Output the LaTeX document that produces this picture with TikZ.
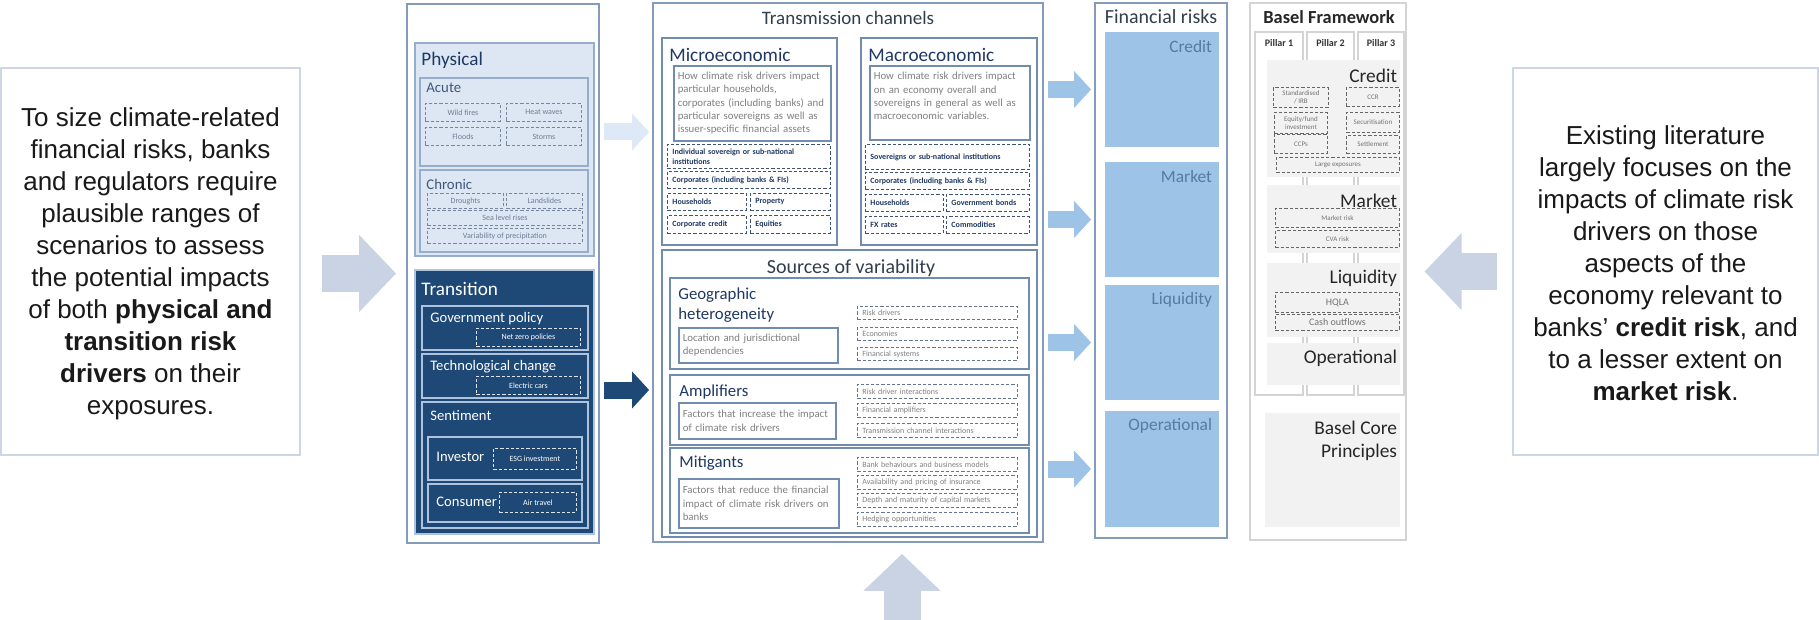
\documentclass[tikz,border=0pt]{standalone}
\usepackage{fontspec}
\setmainfont{Carlito}
\newfontfamily\arialfont{Liberation Sans}
\usepackage{tikz}
\usetikzlibrary{arrows.meta, positioning, fit}

\definecolor{panelc}{RGB}{132,155,186}
\definecolor{subc}{RGB}{112,140,174}
\definecolor{navyt}{RGB}{31,56,100}
\definecolor{slatet}{RGB}{50,62,78}
\definecolor{grayt}{RGB}{128,128,128}
\definecolor{tagc}{RGB}{62,82,115}
\definecolor{physfill}{RGB}{221,231,243}
\definecolor{physline}{RGB}{150,174,204}
\definecolor{transfill}{RGB}{30,72,118}
\definecolor{transline}{RGB}{175,195,220}
\definecolor{finfill}{RGB}{157,195,230}
\definecolor{finlblc}{RGB}{88,122,163}
\definecolor{baselfill}{RGB}{242,242,242}
\definecolor{baselline}{RGB}{212,212,212}
\definecolor{bigarrowc}{RGB}{201,211,227}
\definecolor{sideline}{RGB}{205,214,228}
\definecolor{lightarrowc}{RGB}{221,233,246}

\begin{document}
\begin{tikzpicture}[x=0.5pt, y=-0.5pt,
    panel/.style={draw=panelc, line width=0.9pt, inner sep=0pt},
    subbox/.style={draw=subc, line width=0.8pt, inner sep=0pt},
    physbox/.style={draw=physline, fill=physfill, line width=0.7pt, inner sep=0pt},
    trbox/.style={draw=transline, line width=0.6pt, inner sep=0pt},
    finblock/.style={fill=finfill, inner sep=0pt},
    bblock/.style={fill=baselfill, inner sep=0pt},
    pillar/.style={draw=baselline, fill=white, line width=0.6pt, inner sep=0pt},
    sidebox/.style={draw=sideline, line width=0.8pt, inner sep=0pt},
    sidetext/.style={font=\arialfont\fontsize{13}{16}\selectfont, align=center, text=black!90},
    ttl/.style={font=\fontsize{9.5}{11}\selectfont, text=slatet, inner sep=0pt},
    hd/.style={font=\fontsize{9.6}{11}\selectfont, text=navyt, inner sep=0pt, anchor=west},
    mhd/.style={font=\fontsize{8.4}{10}\selectfont, text=navyt, inner sep=0pt, anchor=west, align=left},
    shd/.style={font=\fontsize{7.4}{9}\selectfont, text=navyt!85, inner sep=0pt, anchor=west},
    wshd/.style={font=\fontsize{7.3}{9}\selectfont, text=white, inner sep=0pt, anchor=west},
    desc/.style={draw=subc, line width=0.8pt, anchor=north west, align=left, text=grayt,
        inner xsep=2pt, inner ysep=0pt, font=\fontsize{5.4}{6.7}\selectfont},
    dtag/.style={draw=tagc, line width=0.45pt, dash pattern=on 1.6pt off 1pt, anchor=north west,
        inner sep=0pt, align=center, text=tagc, font=\fontsize{4.2}{5}\selectfont},
    ltag/.style={dtag, align=left, inner xsep=2.5pt},
    mtag/.style={ltag, text=navyt, font=\bfseries\fontsize{4}{5}\selectfont},
    ptag/.style={dtag, draw=tagc!70, text=tagc!75, font=\fontsize{4}{5}\selectfont},
    wtag/.style={dtag, draw=white!85!transfill, text=white, font=\fontsize{4}{5}\selectfont},
    gtag/.style={ltag, draw=tagc!80, text=grayt, font=\fontsize{4}{5}\selectfont},
    btag/.style={dtag, draw=black!60, text=black!55, font=\fontsize{3.5}{4.2}\selectfont},
    bhd/.style={font=\bfseries\fontsize{9.2}{11}\selectfont, text=black!85, inner sep=0pt, anchor=west},
    plbl/.style={font=\bfseries\fontsize{5}{6}\selectfont, text=black!80, inner sep=0pt},
    blbl/.style={font=\fontsize{9.7}{11.5}\selectfont, text=black!85, inner sep=0pt, anchor=east},
    finlbl/.style={font=\fontsize{8.7}{10}\selectfont, text=finlblc, inner sep=0pt, anchor=east},
    bigarrow/.style={draw=bigarrowc, line width=18.5pt, -{Triangle[length=18.5pt, width=37.5pt]}},
    flow/.style={line width=8.5pt, shorten <=2pt, shorten >=1.5pt, -{Triangle[length=8.5pt, width=18pt]}}
]
\useasboundingbox (0,0) rectangle (1819,620);

% side notes
\node[sidebox, fit={(1,68) (300,455)}] (lefttext) {};
\node[sidetext] (lefttext-t) at ([yshift=-1pt]lefttext.center) {To size climate-related\\financial risks, banks\\and regulators require\\plausible ranges of\\scenarios to assess\\the potential impacts\\of both \textbf{physical and}\\\textbf{transition risk}\\\textbf{drivers} on their\\exposures.};
\node[sidebox, fit={(1513,68) (1818,455)}] (righttext) {};
\node[sidetext] (righttext-t) at ([yshift=-1pt]righttext.center) {Existing literature\\largely focuses on the\\impacts of climate risk\\drivers on those\\aspects of the\\economy relevant to\\banks’ \textbf{credit risk}, and\\to a lesser extent on\\\textbf{market risk}.};

% risk drivers
\node[panel, fill=white, fit={(407,4) (599,543)}] (drivers) {};
\node[physbox, fit={(415,43) (594,256)}] (phys) {};
\node[hd] (phys-t) at (421,60) {Physical};
\node[physbox, fit={(420,78) (588,166)}] (acute) {};
\node[shd] (acute-t) at (426,88) {Acute};
\foreach \n/\x/\y/\t in {wf/425/103/Wild fires, hw/506/103/Heat waves, fl/425/127/Floods, st/506/127/Storms}
  \node[ptag, minimum width=37.5pt, minimum height=9pt] (\n) at (\x,\y) {\t};
\node[physbox, fit={(420,170) (588,252)}] (chronic) {};
\node[shd] (chronic-t) at (426,184) {Chronic};
\foreach \n/\x/\y/\w/\t in {dr/427/193/38pt/Droughts, ls/506/193/38pt/Landslides, sl/427/210/77.5pt/Sea level rises, vp/427/228/77.5pt/Variability of precipitation}
  \node[ptag, minimum width=\w, minimum height=7.5pt] (\n) at (\x,\y) {\t};

\node[panel, draw=transline, fill=transfill, fit={(415,270) (594,534)}] (trn) {};
\node[hd, text=white] (trn-t) at (421,289) {Transition};
\node[trbox, fit={(422,306) (588,350)}] (gov) {};
\node[wshd] (gov-t) at (430,319) {Government policy};
\node[wtag, minimum width=52pt, minimum height=9pt] (nz) at (476,328) {Net zero policies};
\node[trbox, fit={(422,354) (588,398)}] (tech) {};
\node[wshd] (tech-t) at (430,367) {Technological change};
\node[wtag, minimum width=52pt, minimum height=9pt] (ec) at (476,376) {Electric cars};
\node[trbox, fit={(422,402) (588,528)}] (sent) {};
\node[wshd] (sent-t) at (430,416) {Sentiment};
\node[trbox, fit={(428,437) (582,480)}] (inv) {};
\node[wshd] (inv-t) at (436,457) {Investor};
\node[wtag, minimum width=41.5pt, minimum height=10.5pt] (esg) at (493,448) {ESG investment};
\node[trbox, fit={(428,484) (582,522)}] (cons) {};
\node[wshd] (cons-t) at (436,502) {Consumer};
\node[wtag, minimum width=38.5pt, minimum height=10pt] (air) at (499,492) {Air travel};

% transmission channels
\node[panel, fill=white, fit={(653,3) (1043,542)}] (tc) {};
\node[ttl] (tc-t) at (848,18) {Transmission channels};
\node[subbox, fit={(662,38) (837,245)}] (micro) {};
\node[hd] (micro-t) at (669,55) {Microeconomic};
\node[desc, text width=74.5pt, minimum height=37.5pt] (micro-d) at (673,65) {How climate risk drivers impact\\particular households,\\corporates (including banks) and\\particular sovereigns  as well as\\issuer-specific  financial assets};
\foreach \n/\x/\y/\w/\h/\t in {
    mi1/667/144/76.5pt/12pt/{Individual sovereign or sub-national\\institutions},
    mi2/667/171/76.5pt/8.5pt/{Corporates (including banks \& FIs)},
    mi3/667/193/34.5pt/8.5pt/Households, mi4/750/193/35pt/8.5pt/Property,
    mi5/667/215/34.5pt/9pt/Corporate credit, mi6/750/215/35pt/9pt/Equities}
  \node[mtag, text width=\w, minimum height=\h] (\n) at (\x,\y) {\t};

\node[subbox, fit={(861,38) (1037,245)}] (macro) {};
\node[hd] (macro-t) at (868,55) {Macroeconomic};
\node[desc, text width=76pt, minimum height=37pt] (macro-d) at (869,65) {How climate risk drivers impact\\on an economy overall and\\sovereigns in general as well as\\macroeconomic variables.\\\mbox{}};
\foreach \n/\x/\y/\w/\h/\t in {
    ma1/865/144/77pt/12.5pt/Sovereigns or sub-national institutions,
    ma2/865/172/77pt/8.5pt/{Corporates (including banks \& FIs)},
    ma3/865/194/34pt/8.5pt/Households, ma4/946/194/36.5pt/8.5pt/Government bonds,
    ma5/865/216/34pt/8.5pt/FX rates, ma6/946/216/36.5pt/8.5pt/Commodities}
  \node[mtag, text width=\w, minimum height=\h] (\n) at (\x,\y) {\t};

\node[subbox, fit={(662,250) (1037,537)}] (src) {};
\node[ttl, font=\fontsize{10}{12}\selectfont] (src-t) at (851,268) {Sources of variability};
\node[subbox, fit={(670,278) (1029,369)}] (geo) {};
\node[mhd] (geo-t) at (678,305) {Geographic\\heterogeneity};
\node[desc, text width=75.5pt, minimum height=17.5pt] (geo-d) at (678,327) {Location and jurisdictional\\dependencies};
\foreach \n/\y/\t in {ge1/306/Risk drivers, ge2/327/Economies, ge3/347/Financial systems}
  \node[gtag, text width=75pt, minimum height=6.5pt] (\n) at (857,\y) {\t};
\node[subbox, fit={(670,375) (1029,445)}] (amp) {};
\node[mhd] (amp-t) at (679,392) {Amplifiers};
\node[desc, text width=74.5pt, minimum height=18pt] (amp-d) at (678,402) {Factors that increase the impact\\of climate risk drivers};
\foreach \n/\y/\t in {am1/384/Risk driver interactions, am2/403/Financial amplifiers, am3/423/Transmission channel interactions}
  \node[gtag, text width=75pt, minimum height=7pt] (\n) at (857,\y) {\t};
\node[subbox, fit={(670,448) (1029,533)}] (mit) {};
\node[mhd] (mit-t) at (679,463) {Mitigants};
\node[desc, text width=76pt, minimum height=24.5pt] (mit-d) at (678,478) {Factors that reduce the financial\\impact of climate risk drivers on\\banks};
\foreach \n/\y/\t in {mt1/457/Bank behaviours and business models, mt2/475/Availability and pricing of insurance, mt3/493/Depth and maturity of capital markets, mt4/512/Hedging opportunities}
  \node[gtag, text width=75pt, minimum height=7pt] (\n) at (857,\y) {\t};

% drivers feed the channels
\draw[flow, draw=lightarrowc] (drivers.east |- 0,132) -- (tc.west |- 0,132);
\draw[flow, draw=transfill] (drivers.east |- 0,390) -- (tc.west |- 0,390);

% financial risks
\node[panel, fill=white, fit={(1095,3) (1227,538)}] (fin) {};
\node[ttl, font=\fontsize{10}{12}\selectfont] (fin-t) at (1161,17) {Financial risks};
\foreach \n/\a/\b/\t in {cr/32/147/Credit, mk/162/277/Market, lq/285/400/Liquidity, op/411/527/Operational} {
  \node[finblock, fit={(1105,\a) (1219,\b)}] (\n) {};
  \node[finlbl] (\n-t) at ([xshift=-3.5pt, yshift=-7.5pt]\n.north east) {\t};
  \draw[flow, draw=finfill] (tc.east |- \n) -- (fin.west |- \n);
}

% Basel framework
\node[panel, draw=baselline, line width=0.6pt, fill=white, fit={(1250,3) (1406,540)}] (basel) {};
\node[bhd] (basel-t) at (1263,17) {Basel Framework};
\foreach \n/\a/\b/\t in {p1/1255/1303/Pillar 1, p2/1307/1354/Pillar 2, p3/1358/1404/Pillar 3} {
  \node[pillar, fit={(\a,32) (\b,395)}] (\n) {};
  \node[plbl] (\n-t) at ([yshift=-6pt]\n.north) {\t};
}
\foreach \n/\a/\b/\t in {bcr/60/177/Credit, bmk/185/253/Market, blq/263/337/Liquidity, bop/343/385/Operational} {
  \node[bblock, fit={(1267,\a) (1400,\b)}] (\n) {};
  \node[blbl] (\n-t) at ([xshift=-1.5pt, yshift=-8pt]\n.north east) {\t};
}
\foreach \n/\x/\y/\w/\h/\t in {
    b1/1273/87/27.5pt/10pt/{Standardised\\/ IRB}, b2/1346/87/26.5pt/9.5pt/CCR,
    b3/1274/112/26.5pt/10.5pt/{Equity/fund\\investment}, b4/1346/112/26.5pt/10pt/Securitisation,
    b5/1274/134/26.5pt/9.5pt/CCPs, b6/1346/135/26.5pt/9pt/Settlement,
    b7/1276/157/61.5pt/7.5pt/Large exposures,
    b8/1275/208/62pt/9.5pt/Market risk, b9/1275/230/62pt/8.5pt/CVA risk}
  \node[btag, minimum width=\w, minimum height=\h] (\n) at (\x,\y) {\t};
\node[btag, font=\fontsize{5}{6}\selectfont, minimum width=62pt, minimum height=10pt] (hqla) at (1275,292) {HQLA};
\node[btag, font=\fontsize{5}{6}\selectfont, minimum width=62pt, minimum height=8pt] (cash) at (1275,314) {Cash outflows};
\node[bblock, fit={(1265,413) (1400,527)}] (core) {};
\node[blbl, align=right] (core-t) at ([xshift=-1.5pt, yshift=-14.25pt]core.north east) {Basel Core\\Principles};

% big arrows into the framework
\draw[bigarrow, shorten <=10.5pt, shorten >=5pt] (lefttext.east |- drivers.west) -- (drivers.west);
\draw[bigarrow, shorten <=7.5pt, shorten >=9pt] (righttext.west |- basel.east) -- (basel.east);
\coordinate (src-in) at (902,620);
\draw[bigarrow, shorten >=5.5pt] (src-in) -- (src-in |- tc.south);
\end{tikzpicture}
\end{document}
